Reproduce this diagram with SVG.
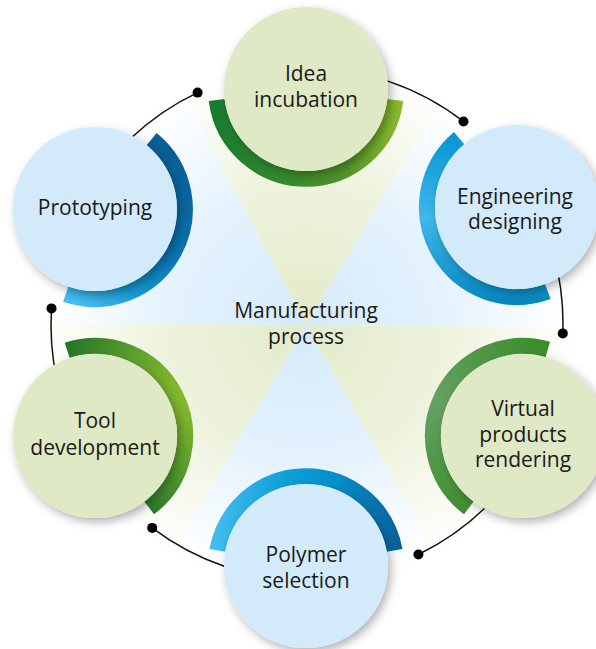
<svg xmlns="http://www.w3.org/2000/svg" width="596" height="649" viewBox="0 0 596 649">
<defs>
<style>
.lbl{font-family:"Open Sans","Noto Sans","Liberation Sans",sans-serif;font-size:21px;fill:#1a1a1a;text-anchor:middle}
.ring{fill:none;stroke-width:16}
.cg{fill:#dfe9c5}
.cb{fill:#d2eafa}
.conn{fill:none;stroke:#111;stroke-width:1.5}
.dot{fill:#000}
</style>
<radialGradient id="wg" gradientUnits="userSpaceOnUse" cx="306" cy="325" r="270">
<stop offset="0" stop-color="#e3ebc9"/>
<stop offset="0.5" stop-color="#edf2dc"/>
<stop offset="0.8" stop-color="#f8faf1"/>
<stop offset="1" stop-color="#ffffff"/>
</radialGradient>
<radialGradient id="wb" gradientUnits="userSpaceOnUse" cx="306" cy="325" r="270">
<stop offset="0" stop-color="#d5eafa"/>
<stop offset="0.5" stop-color="#e4f2fd"/>
<stop offset="0.8" stop-color="#f6fbfe"/>
<stop offset="1" stop-color="#ffffff"/>
</radialGradient>
<linearGradient id="gIdea" gradientUnits="userSpaceOnUse" x1="208" y1="110" x2="404" y2="110">
<stop offset="0" stop-color="#167a30"/>
<stop offset="0.45" stop-color="#3a8c2b"/>
<stop offset="0.7" stop-color="#52932a"/>
<stop offset="1" stop-color="#8dbc2b"/>
</linearGradient>
<linearGradient id="gEng" gradientUnits="userSpaceOnUse" x1="0" y1="133" x2="0" y2="304">
<stop offset="0" stop-color="#0596d4"/>
<stop offset="0.5" stop-color="#3fb7ea"/>
<stop offset="1" stop-color="#0387c0"/>
</linearGradient>
<radialGradient id="gVir" gradientUnits="userSpaceOnUse" cx="430" cy="400" r="130">
<stop offset="0" stop-color="#66a265"/>
<stop offset="1" stop-color="#3a8c2a"/>
</radialGradient>
<linearGradient id="gPol" gradientUnits="userSpaceOnUse" x1="210" y1="0" x2="403" y2="0">
<stop offset="0" stop-color="#46beee"/>
<stop offset="0.4" stop-color="#0ba0d9"/>
<stop offset="0.65" stop-color="#0590cc"/>
<stop offset="1" stop-color="#0a5e97"/>
</linearGradient>
<radialGradient id="gTool" gradientUnits="userSpaceOnUse" cx="200" cy="390" r="150">
<stop offset="0" stop-color="#90c02b"/>
<stop offset="0.5" stop-color="#5ea02c"/>
<stop offset="1" stop-color="#1a6e2a"/>
</radialGradient>
<linearGradient id="gPro" gradientUnits="userSpaceOnUse" x1="150" y1="140" x2="70" y2="300">
<stop offset="0" stop-color="#0b5d96"/>
<stop offset="0.5" stop-color="#0872ae"/>
<stop offset="0.8" stop-color="#1596cf"/>
<stop offset="1" stop-color="#45bdee"/>
</linearGradient>
<filter id="sh" x="-30%" y="-30%" width="160%" height="160%">
<feDropShadow dx="3" dy="4" stdDeviation="5" flood-color="#000" flood-opacity="0.3"/>
</filter>
</defs>
<rect width="596" height="649" fill="#ffffff"/>
<g id="background">
<polygon points="306,325 108.8,-45.8 522.3,-35" fill="url(#wg)"/>
<polygon points="306,325 522.3,-35 726,328.7" fill="url(#wb)"/>
<polygon points="306,325 726,328.7 512.8,690.6" fill="url(#wg)"/>
<polygon points="306,325 512.8,690.6 92.8,686.9" fill="url(#wb)"/>
<polygon points="306,325 92.8,686.9 -114,321.3" fill="url(#wg)"/>
<polygon points="306,325 -114,321.3 108.8,-45.8" fill="url(#wb)"/>
</g>
<g id="connectors">
<path class="conn" d="M82,201.8 A256,256 0 0 1 197.6,92.6"/>
<circle class="dot" cx="197.6" cy="92.6" r="5"/>
<path class="conn" d="M306.1,68 A256,256 0 0 1 463.5,121.5"/>
<circle class="dot" cx="463.5" cy="121.5" r="5"/>
<path class="conn" d="M530.7,199.5 A256,256 0 0 1 562.8,333.4"/>
<circle class="dot" cx="562.8" cy="333.4" r="5"/>
<path class="conn" d="M534.3,441.8 A256,256 0 0 1 418.4,554.5"/>
<circle class="dot" cx="418.4" cy="554.5" r="5"/>
<path class="conn" d="M306.1,580 A256,256 0 0 1 152.2,527.9"/>
<circle class="dot" cx="152.2" cy="527.9" r="5"/>
<path class="conn" d="M80.5,443.4 A256,256 0 0 1 51.5,308.4"/>
<circle class="dot" cx="51.5" cy="308.4" r="5"/>
</g>
<g id="idea">
<path class="ring" stroke="url(#gIdea)" d="M395.3,100 A90,90 0 0 1 216.7,100"/>
<circle class="cg" cx="306" cy="89" r="82" filter="url(#sh)"/>
<text class="lbl" x="306" y="81">Idea</text>
<text class="lbl" x="306" y="107">incubation</text>
</g>
<g id="engineering">
<path class="ring" stroke="url(#gEng)" d="M547.8,291.6 A90,90 0 0 1 459.1,138.1"/>
<circle class="cb" cx="517" cy="207" r="82" filter="url(#sh)"/>
<text class="lbl" x="515" y="204">Engineering</text>
<text class="lbl" x="515" y="229">designing</text>
</g>
<g id="virtual">
<path class="ring" stroke="url(#gVir)" d="M468.8,507.9 A90,90 0 0 1 547.8,349.5"/>
<circle class="cg" cx="523" cy="436" r="82" filter="url(#sh)"/>
<text class="lbl" x="523" y="416">Virtual</text>
<text class="lbl" x="523" y="442">products</text>
<text class="lbl" x="523" y="467">rendering</text>
</g>
<g id="polymer">
<path class="ring" stroke="url(#gPol)" d="M217.4,550.4 A90,90 0 0 1 394.6,550.4"/>
<circle class="cb" cx="306" cy="566" r="82" filter="url(#sh)"/>
<text class="lbl" x="306" y="562">Polymer</text>
<text class="lbl" x="306" y="588">selection</text>
</g>
<g id="tool">
<path class="ring" stroke="url(#gTool)" d="M67.2,350.4 A90,90 0 0 1 149.2,507.9"/>
<circle class="cg" cx="95" cy="436" r="82" filter="url(#sh)"/>
<text class="lbl" x="95" y="428">Tool</text>
<text class="lbl" x="95" y="455">development</text>
</g>
<g id="prototyping">
<path class="ring" stroke="url(#gPro)" d="M151.6,139.1 A90,90 0 0 1 65.7,294.1"/>
<circle class="cb" cx="95" cy="209" r="82" filter="url(#sh)"/>
<text class="lbl" x="95" y="215">Prototyping</text>
</g>
<g id="center">
<text class="lbl" x="306" y="318">Manufacturing</text>
<text class="lbl" x="306" y="344">process</text>
</g>
</svg>
